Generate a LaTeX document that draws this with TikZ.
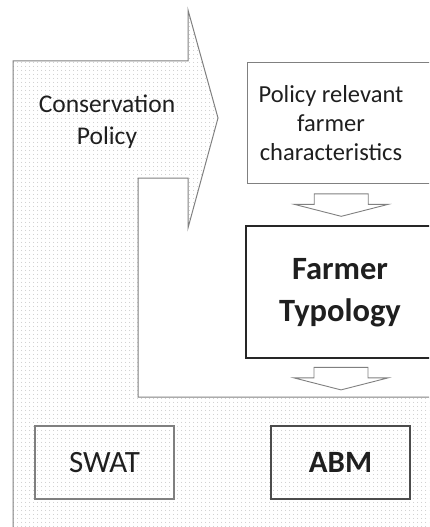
\documentclass[tikz,border=0pt]{standalone}
\usepackage{fontspec}
\setmainfont{Carlito}
\usetikzlibrary{patterns.meta,calc}
\tikzdeclarepattern{
  name=mydots,
  type=uncolored,
  bounding box={(0,0) and (4pt,4pt)},
  tile size={(4pt,4pt)},
  code={\fill (2pt,2pt) circle (0.55pt);}
}
\definecolor{linegray}{gray}{0.5}
\definecolor{txt}{gray}{0.12}
\tikzset{
  region/.style={draw=linegray, line width=1pt, pattern={mydots}, pattern color=gray!62},
  plainbox/.style={draw=linegray, line width=0.9pt, fill=white, text=txt, align=center, inner sep=0pt},
  boldbox/.style={draw=black!85, line width=1.6pt, fill=white, text=txt, align=center, inner sep=0pt},
  modelbox/.style={line width=1.1pt, text=txt, inner sep=0pt, minimum width=139pt, minimum height=73pt},
  hollow/.style={draw=linegray, line width=0.9pt, fill=white},
}
\begin{document}
\begin{tikzpicture}[x=1pt,y=-1pt]
\useasboundingbox (0,0) rectangle (429,527);
\clip (0,0) rectangle (429,527);
% big dotted region with arrow
\draw[region] (13,61) -- (188,61) -- (188,10) -- (218,118) -- (188,228) -- (188,178)
  -- (138,178) -- (138,397) -- (445,397) -- (445,540) -- (13,540) -- cycle;
\node[text=txt, align=center, font=\fontsize{25.5}{32}\selectfont] (cons) at (107,122) {Conservation\\Policy};
% boxes
\node[plainbox, minimum width=189pt, minimum height=121pt] (pol) at (341.5,122.5) {};
\node[text=txt, align=center, font=\fontsize{24.5}{29}\selectfont] (poltext) at (331,123) {Policy relevant\\farmer\\characteristics};
\node[boldbox, minimum width=190pt, minimum height=132pt] (typ) at (341,292) {};
\node[text=txt, align=center, font=\bfseries\fontsize{32.5}{42}\selectfont] (typtext) at (340,293) {Farmer\\Typology};
\coordinate (base) at (typ.south |- 0,397);
% hollow arrows
\coordinate (a1) at ($(pol.south)!0.5!(typ.north)$);
\draw[hollow] ($(a1)+(-27,-10.5)$) -- ($(a1)+(27,-10.5)$) -- ($(a1)+(27,0)$) -- ($(a1)+(47,0)$)
  -- ($(a1)+(0,12)$) -- ($(a1)+(-47,0)$) -- ($(a1)+(-27,0)$) -- cycle;
\coordinate (a2) at ($(typ.south)!0.5!(base)$);
\draw[hollow] ($(a2)+(-27,-10.5)$) -- ($(a2)+(27,-10.5)$) -- ($(a2)+(27,0)$) -- ($(a2)+(47,0)$)
  -- ($(a2)+(0,12)$) -- ($(a2)+(-47,0)$) -- ($(a2)+(-27,0)$) -- cycle;
% model boxes
\node[modelbox, draw=linegray, font=\fontsize{31}{34}\selectfont] (swat) at (104.5,462.5) {SWAT};
\node[modelbox, draw=black!70, font=\bfseries\fontsize{31}{34}\selectfont] (abm) at (340.5,462.5) {ABM};
\end{tikzpicture}
\end{document}
